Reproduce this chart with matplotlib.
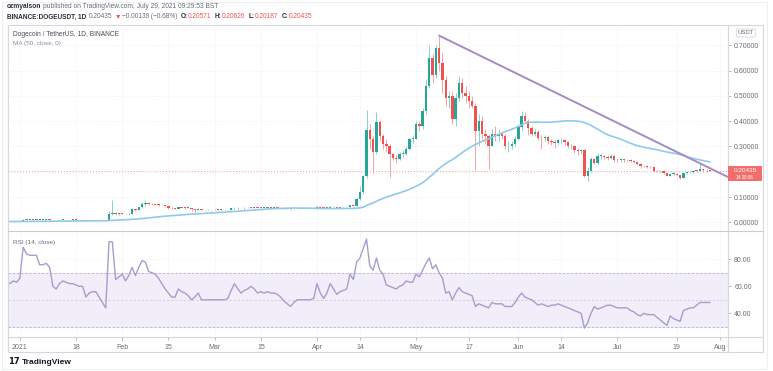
import numpy as np
import pandas as pd
import matplotlib
matplotlib.use("Agg")
import matplotlib.pyplot as plt
import matplotlib.dates as mdates
from matplotlib.patches import Rectangle
from matplotlib.lines import Line2D

plt.rcParams['font.family'] = ['Liberation Sans', 'DejaVu Sans']

# ---------------- data (DOGE/USDT daily) ----------------
# closes Nov 8 - Dec 31 2020 (warm-up for the MA, last 4 days are drawn)
close_2020 = [0.00265, 0.00262, 0.00264, 0.00265, 0.00262, 0.00265, 0.00263, 0.00260, 0.00272, 0.00285,
              0.00306, 0.00316, 0.00334, 0.00330, 0.00350, 0.00345, 0.00365, 0.00340, 0.00300, 0.00322,
              0.00336, 0.00340, 0.00355,
              0.00320, 0.00330, 0.00338, 0.00325, 0.00332, 0.00335, 0.00333, 0.00322, 0.00324, 0.00320,
              0.00314, 0.00322, 0.00327, 0.00323, 0.00324, 0.00336, 0.00368, 0.00375, 0.00381, 0.00448,
              0.00432, 0.00453, 0.00410, 0.00437, 0.00458, 0.00455, 0.00460,
              0.00472, 0.00465, 0.00460, 0.00468]

close_2021 = [
    # Jan
    0.00568, 0.01050, 0.00985, 0.00995, 0.00990, 0.01000, 0.00975, 0.00985, 0.01010, 0.00980,
    0.00860, 0.00890, 0.00930, 0.00940, 0.00890, 0.00900, 0.00920, 0.00905, 0.00880, 0.00860,
    0.00750, 0.00820, 0.00810, 0.00830, 0.00810, 0.00800, 0.00740, 0.03400, 0.03700, 0.03300, 0.03500,
    # Feb
    0.0340, 0.0320, 0.0350, 0.0530, 0.0480, 0.0590, 0.0720, 0.0780, 0.0730, 0.0710,
    0.0700, 0.0690, 0.0670, 0.0630, 0.0580, 0.0560, 0.0540, 0.0590, 0.0570, 0.0565,
    0.0570, 0.0520, 0.0480, 0.0530, 0.0490, 0.0480, 0.0490, 0.0480,
    # Mar
    0.0500, 0.0490, 0.0495, 0.0480, 0.0490, 0.0560, 0.0580, 0.0560, 0.0570, 0.0560,
    0.0580, 0.0570, 0.0600, 0.0580, 0.0570, 0.0575, 0.0580, 0.0570, 0.0575, 0.0570,
    0.0555, 0.0540, 0.0535, 0.0510, 0.0520, 0.0530, 0.0530, 0.0530, 0.0535, 0.0530, 0.0535,
    # Apr
    0.0610, 0.0580, 0.0570, 0.0580, 0.0620, 0.0600, 0.0580, 0.0590, 0.0600, 0.0600,
    0.0680, 0.0660, 0.0930, 0.1200, 0.1830, 0.3660, 0.3300, 0.2800, 0.3950, 0.3400,
    0.3100, 0.3000, 0.2700, 0.2550, 0.2500, 0.2700, 0.2700, 0.2900, 0.3300, 0.3300,
    # May
    0.3900, 0.3800, 0.4400, 0.5370, 0.6490, 0.5830, 0.6890, 0.6300, 0.5630, 0.4900,
    0.5000, 0.4100, 0.4900, 0.5500, 0.5100, 0.5000, 0.4800, 0.4600, 0.3600, 0.4000,
    0.3500, 0.3400, 0.3000, 0.3500, 0.3400, 0.3500, 0.3400, 0.3000, 0.3000, 0.3100, 0.3300,
    # Jun
    0.3750, 0.4220, 0.4000, 0.3720, 0.3500, 0.3580, 0.3350, 0.3320, 0.3380, 0.3200,
    0.3180, 0.3140, 0.3250, 0.3270, 0.3180, 0.3000, 0.3030, 0.2850, 0.2820, 0.2850,
    0.1850, 0.2050, 0.2500, 0.2350, 0.2620, 0.2620, 0.2580, 0.2550, 0.2620, 0.2480,
    # Jul
    0.2450, 0.2490, 0.2450, 0.2480, 0.2440, 0.2380, 0.2310, 0.2210, 0.2240, 0.2200,
    0.2180, 0.2050, 0.2020, 0.2040, 0.1950, 0.1850, 0.1920, 0.1930, 0.1860, 0.1750,
    0.1960, 0.1980, 0.2000, 0.2050, 0.2030, 0.2100, 0.2060, 0.20571, 0.20435]

# highs / lows Dec 28 2020 - Jul 29 2021
high = [
    0.0049, 0.0048, 0.0047, 0.0048,
    0.00575, 0.01350, 0.01110, 0.01070, 0.01030, 0.01040, 0.01060, 0.01010, 0.01050, 0.01060,
    0.00990, 0.00930, 0.00950, 0.00970, 0.00950, 0.00920, 0.00940, 0.00930, 0.00920, 0.00890,
    0.00870, 0.00830, 0.00840, 0.00850, 0.00860, 0.00820, 0.00810, 0.04500, 0.08700, 0.04200, 0.03800,
    0.0380, 0.0350, 0.0370, 0.0580, 0.0540, 0.0610, 0.0790, 0.0870, 0.0800, 0.0760,
    0.0730, 0.0720, 0.0700, 0.0680, 0.0640, 0.0600, 0.0570, 0.0610, 0.0600, 0.0590,
    0.0590, 0.0580, 0.0530, 0.0550, 0.0540, 0.0500, 0.0510, 0.0500,
    0.0510, 0.0510, 0.0510, 0.0510, 0.0500, 0.0570, 0.0620, 0.0590, 0.0580, 0.0590,
    0.0600, 0.0590, 0.0620, 0.0610, 0.0590, 0.0590, 0.0590, 0.0590, 0.0590, 0.0580,
    0.0575, 0.0565, 0.0550, 0.0550, 0.0530, 0.0540, 0.0540, 0.0545, 0.0545, 0.0545, 0.0545,
    0.0650, 0.0640, 0.0610, 0.0590, 0.0640, 0.0630, 0.0610, 0.0600, 0.0610, 0.0610,
    0.0700, 0.0720, 0.1000, 0.1450, 0.1870, 0.4450, 0.3870, 0.3400, 0.4350, 0.4050,
    0.3500, 0.3300, 0.3100, 0.2750, 0.2650, 0.2800, 0.2850, 0.3000, 0.3350, 0.3450,
    0.4000, 0.4000, 0.4500, 0.5650, 0.7000, 0.6650, 0.7000, 0.7380, 0.6700, 0.5800,
    0.5200, 0.5200, 0.5100, 0.5800, 0.5700, 0.5400, 0.5200, 0.5000, 0.4700, 0.4300,
    0.4200, 0.3700, 0.3500, 0.3700, 0.3800, 0.3700, 0.3600, 0.3500, 0.3200, 0.3200, 0.3400,
    0.3850, 0.4400, 0.4350, 0.4100, 0.3800, 0.3700, 0.3650, 0.3450, 0.3450, 0.3450,
    0.3300, 0.3250, 0.3300, 0.3350, 0.3300, 0.3200, 0.3100, 0.3050, 0.2950, 0.2900,
    0.2900, 0.2200, 0.2600, 0.2550, 0.2750, 0.2700, 0.2650, 0.2650, 0.2700, 0.2650,
    0.2550, 0.2550, 0.2520, 0.2520, 0.2500, 0.2480, 0.2420, 0.2340, 0.2280, 0.2280,
    0.2230, 0.2200, 0.2080, 0.2070, 0.2060, 0.1950, 0.1960, 0.1980, 0.1950, 0.1880,
    0.1990, 0.2020, 0.2050, 0.2080, 0.2070, 0.2350, 0.2120, 0.2100, 0.20626]

low = [
    0.0045, 0.0045, 0.0045, 0.0045,
    0.00465, 0.00560, 0.00900, 0.00800, 0.00920, 0.00940, 0.00940, 0.00880, 0.00960, 0.00930,
    0.00760, 0.00810, 0.00860, 0.00900, 0.00850, 0.00870, 0.00880, 0.00880, 0.00860, 0.00790,
    0.00720, 0.00710, 0.00790, 0.00800, 0.00790, 0.00770, 0.00710, 0.00730, 0.02800, 0.03000, 0.03100,
    0.0320, 0.0290, 0.0310, 0.0340, 0.0440, 0.0470, 0.0560, 0.0640, 0.0690, 0.0680,
    0.0670, 0.0660, 0.0650, 0.0600, 0.0540, 0.0540, 0.0520, 0.0540, 0.0550, 0.0530,
    0.0550, 0.0440, 0.0400, 0.0470, 0.0480, 0.0460, 0.0470, 0.0440,
    0.0480, 0.0480, 0.0480, 0.0470, 0.0460, 0.0480, 0.0540, 0.0540, 0.0550, 0.0540,
    0.0550, 0.0550, 0.0560, 0.0570, 0.0550, 0.0550, 0.0560, 0.0560, 0.0560, 0.0560,
    0.0545, 0.0530, 0.0520, 0.0500, 0.0500, 0.0515, 0.0520, 0.0520, 0.0525, 0.0525, 0.0520,
    0.0530, 0.0570, 0.0550, 0.0560, 0.0570, 0.0590, 0.0550, 0.0570, 0.0580, 0.0590,
    0.0600, 0.0640, 0.0650, 0.0880, 0.1130, 0.1770, 0.2900, 0.1950, 0.2700, 0.3200,
    0.2900, 0.2800, 0.1800, 0.2450, 0.2350, 0.2450, 0.2600, 0.2650, 0.2850, 0.3150,
    0.3300, 0.3600, 0.3700, 0.4300, 0.5300, 0.5500, 0.5700, 0.6000, 0.5100, 0.4600,
    0.4500, 0.3900, 0.3800, 0.4800, 0.4900, 0.4700, 0.4500, 0.4500, 0.2100, 0.3000,
    0.3300, 0.3100, 0.2100, 0.3000, 0.3200, 0.3200, 0.3300, 0.2900, 0.2800, 0.2900, 0.3000,
    0.3250, 0.3650, 0.3950, 0.3450, 0.3400, 0.3400, 0.3250, 0.2900, 0.3200, 0.3100,
    0.3050, 0.2950, 0.3050, 0.3150, 0.3050, 0.2950, 0.2900, 0.2750, 0.2650, 0.2700,
    0.1800, 0.1650, 0.2000, 0.2300, 0.2300, 0.2500, 0.2500, 0.2450, 0.2500, 0.2400,
    0.2400, 0.2400, 0.2400, 0.2420, 0.2400, 0.2330, 0.2250, 0.2150, 0.2170, 0.2160,
    0.2150, 0.2010, 0.1990, 0.1980, 0.1900, 0.1820, 0.1840, 0.1880, 0.1830, 0.1700,
    0.1740, 0.1920, 0.1940, 0.1970, 0.1990, 0.1990, 0.1980, 0.2000, 0.20187]

rsi = [63, 62, 64, 63,
       66, 89, 84, 83, 83, 83, 76, 76, 77, 74,
       60, 58, 62, 64, 63, 62, 62, 61, 60, 60,
       52, 55, 56, 56, 52, 48, 44, 93, 93, 65,
       67, 69, 64, 68, 74, 68, 74, 79, 78, 71,
       70, 69, 66, 62, 58, 55, 52, 52, 58, 56,
       55, 53, 50, 52, 55, 50, 50, 50, 50, 50,
       50, 50, 50, 51, 57, 62, 58, 55, 57, 58,
       60, 58, 55, 56, 55, 56, 55, 55, 54, 52,
       49, 47, 45, 48, 50, 50, 50, 50, 50, 51,
       62, 55, 51, 55, 62, 58, 54, 56, 57, 58,
       69, 65, 78, 81, 88, 95, 75, 72, 81, 72,
       69, 61, 60, 59, 58, 60, 61, 64, 63, 63,
       69, 67, 72, 77, 81, 73, 76, 70, 66, 55,
       56, 50, 55, 59, 56, 55, 54, 53, 45, 47,
       46, 45, 44, 48, 47, 47, 47, 45, 45, 45,
       48, 52, 55, 52, 51, 50, 48, 46, 47, 46,
       45, 46, 46, 47, 46, 45, 44, 43, 42, 41,
       40, 29, 33, 40, 45, 43, 44, 45, 46, 46,
       45, 44, 44, 44, 44, 42, 41, 39, 38, 40,
       39, 39, 39, 37, 35, 33, 31, 38, 36, 35,
       34, 42, 43, 44, 44, 46, 48, 48, 48, 48]

last_price = 0.20435
trend_dates = ['2021-05-08', '2021-08-04']
trend_prices = [0.738, 0.176]

price_ticks = [0.0, 0.1, 0.2, 0.3, 0.4, 0.5, 0.6, 0.7]
rsi_ticks = [40, 60, 80]
tick_dates = ['2021-01-01', '2021-01-18', '2021-02-01', '2021-02-15', '2021-03-01', '2021-03-15',
              '2021-04-01', '2021-04-14', '2021-05-01', '2021-05-17', '2021-06-01', '2021-06-14',
              '2021-07-01', '2021-07-19', '2021-08-01']
tick_labels = ['2021', '18', 'Feb', '15', 'Mar', '15', 'Apr', '14', 'May', '17', 'Jun', '14',
               'Jul', '19', 'Aug']

# ---------------- frame ----------------
df = pd.DataFrame({'close': close_2020 + close_2021},
                  index=pd.date_range('2020-11-08', '2021-07-29', freq='D'))
df['open'] = df['close'].shift(1)
df['ma50'] = df['close'].rolling(50).mean()
df = df.loc['2020-12-28':].copy()
df['high'] = high
df['low'] = low
df['rsi'] = rsi

W, H = 773, 371
fig = plt.figure(figsize=(W / 100, H / 100), dpi=100)
fig.patch.set_facecolor('white')
renderer = fig.canvas.get_renderer()

DARK, GRAY, RED = '#2a2e39', '#6a6d78', '#ef5350'


def box(l, t, r, b):
    return [l / W, 1 - b / H, (r - l) / W, (b - t) / H]


def ftext(x, y, s, **kw):
    kw.setdefault('va', 'center')
    return fig.text(x / W, 1 - y / H, s, **kw)


def run_text(x, y, parts, size):
    # lay out differently styled pieces one after another on a line
    for s, color, bold, gap in parts:
        t = ftext(x, y, s, fontsize=size, color=color, weight='bold' if bold else 'normal')
        x += t.get_window_extent(renderer).width + gap


def fline(x0, y0, x1, y1, color='#d6d8de', lw=0.8):
    fig.add_artist(Line2D([x0 / W, x1 / W], [1 - y0 / H, 1 - y1 / H], color=color, lw=lw,
                          transform=fig.transFigure))


ax = fig.add_axes(box(8, 27, 728, 231))
axr = fig.add_axes(box(8, 231, 728, 337), sharex=ax)

x = mdates.date2num(df.index)
up = df['close'] >= df['open']
colors = np.where(up, '#26a69a', '#ef5350')
wick_colors = np.where(up, '#8fd1c9', '#f5a3a1')

ax.vlines(x, df['low'], df['high'], colors=wick_colors, lw=0.7, zorder=2)
body_lo = np.minimum(df['open'], df['close'])
body_h = np.maximum(np.abs(df['close'] - df['open']), 0.0025)
ax.bar(x, body_h, bottom=body_lo, width=0.72, color=colors, lw=0, zorder=3)
ax.plot(x, df['ma50'], color='#8fcbe8', lw=1.2, zorder=4)
ax.plot(mdates.date2num(pd.to_datetime(trend_dates)), trend_prices, color='#a48cc4',
        lw=1.4, zorder=5, solid_capstyle='round')
ax.axhline(last_price, color='#f29b9b', lw=0.7, ls=(0, (1, 2)), zorder=1)

x0 = mdates.date2num(pd.Timestamp('2021-01-01'))
ax.set_xlim(x0 - 3.6, x0 + 214.5)
ax.set_ylim(-0.034, 0.772)

# RSI pane
axr.axhspan(30, 70, color='#f1eefa', zorder=0)
for lvl, c in [(70, '#b5b3c0'), (50, '#cfcdd8'), (30, '#b5b3c0')]:
    axr.axhline(lvl, color=c, lw=0.6, ls=(0, (3, 2)), zorder=1)
axr.plot(x, df['rsi'], color='#a99ccc', lw=1.0, zorder=3)
axr.set_ylim(22.4, 101)

tick_x = mdates.date2num(pd.to_datetime(tick_dates))
for a in (ax, axr):
    a.set_facecolor('none')
    for s in a.spines.values():
        s.set_visible(False)
    a.set_xticks(tick_x)
    for tx in tick_x:
        a.axvline(tx, color='#e9ebf0', lw=0.6, ls=(0, (1, 1.5)), zorder=0)
    a.yaxis.tick_right()
    a.tick_params(axis='y', length=2.5, width=0.5, color='#a0a3ad', pad=2,
                  labelsize=5, labelcolor=GRAY)

ax.set_yticks(price_ticks)
# the 0.20000 label sits under the last-price tag
ax.set_yticklabels(['' if v == 0.2 else f'{v:.5f}' for v in price_ticks])
for v in price_ticks:
    ax.axhline(v, color='#eceef2', lw=0.6, ls=(0, (1, 1.5)), zorder=0)
ax.tick_params(axis='x', length=0, labelbottom=False)

axr.set_yticks(rsi_ticks)
axr.set_yticklabels([f'{v:.2f}' for v in rsi_ticks])
for v in rsi_ticks:
    axr.axhline(v, color='#eceef2', lw=0.6, ls=(0, (1, 1.5)), zorder=0)
axr.set_xticklabels(tick_labels)
axr.tick_params(axis='x', length=2.5, width=0.5, color='#a0a3ad', pad=2.5,
                labelsize=5, labelcolor=GRAY)

# frame lines
fig.add_artist(Rectangle((2 / W, 1 - 369 / H), 765 / W, 367 / H, transform=fig.transFigure,
                         fill=False, ec='#eceef1', lw=0.8))
fig.add_artist(Rectangle((8 / W, 1 - 352 / H), 755 / W, 327 / H, transform=fig.transFigure,
                         fill=False, ec='#d6d8de', lw=0.8))
fline(728, 25, 728, 352)
fline(8, 231, 763, 231, color='#c9cbd3')
fline(8, 337, 763, 337)

# header
run_text(7, 7, [('ozmyalson', DARK, True, 2),
                ('published on TradingView.com, July 29, 2021 09:29:53 BST', GRAY, False, 0)], 4.8)
run_text(7, 17, [('BINANCE:DOGEUSDT, 1D', DARK, True, 2.5), ('0.20435', GRAY, False, 2),
                 ('\u25bc', RED, False, 1.5), ('\u22120.00139 (\u22120.68%)', GRAY, False, 3),
                 ('O:', DARK, True, 0.5), ('0.20571', RED, False, 3),
                 ('H:', DARK, True, 0.5), ('0.20626', RED, False, 3),
                 ('L:', DARK, True, 0.5), ('0.20187', RED, False, 3),
                 ('C:', DARK, True, 0.5), ('0.20435', RED, False, 0)], 4.7)

ftext(13, 34, 'Dogecoin / TetherUS, 1D, BINANCE', fontsize=4.8, color='#4a4e59')
ftext(13, 43, 'MA (50, close, 0)', fontsize=4.6, color='#8a8d98')
ftext(13, 242, 'RSI (14, close)', fontsize=4.6, color=GRAY)

# USDT tag and last price label
ftext(746, 33, 'USDT', fontsize=4.3, color=GRAY, ha='center',
      bbox=dict(boxstyle='round,pad=0.25', fc='white', ec='#d6d8de', lw=0.6))
fig.add_artist(Rectangle((728 / W, 1 - 181 / H), 34 / W, 15 / H, transform=fig.transFigure,
                         fc='#f26e6c', ec='none', zorder=10))
ftext(745, 170, '0.20435', fontsize=4.6, color='white', ha='center', zorder=11)
ftext(745, 177.8, '14:30:06', fontsize=3.3, color='white', ha='center', zorder=11)

# footer logo
ftext(8, 362, '17', fontsize=6, weight='heavy', color='#131722', family=['DejaVu Sans'])
ftext(22, 362, 'TradingView', fontsize=6, weight='bold', color='#131722')

fig.savefig('out.png', dpi=100, facecolor='white')
